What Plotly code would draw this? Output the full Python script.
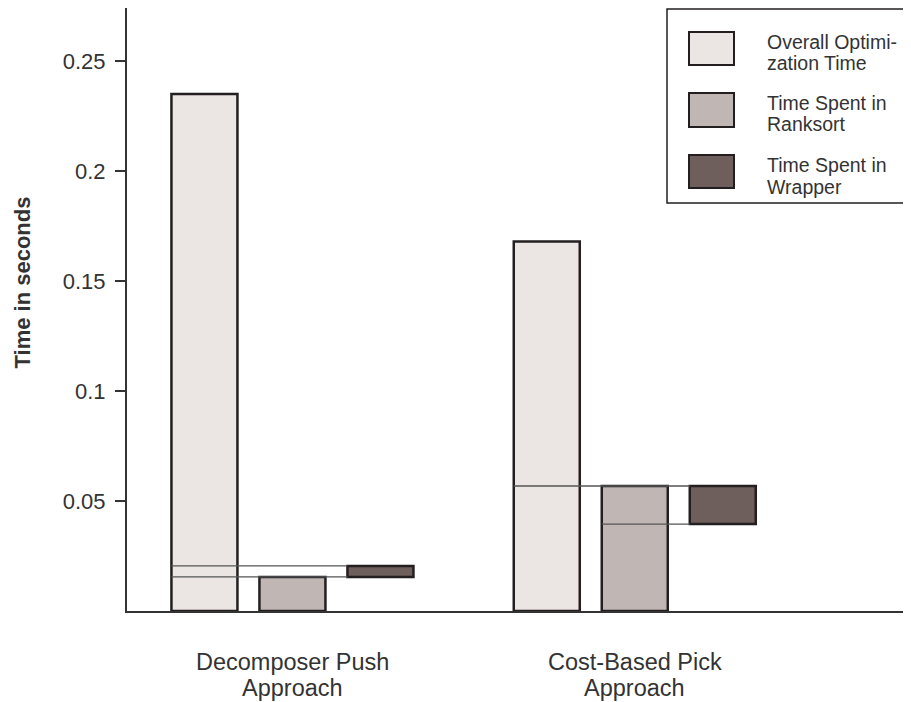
import plotly.graph_objects as go

# ---- data ----
groups = ["Decomposer Push<br>Approach", "Cost-Based Pick<br>Approach"]
series_names = ["Overall Optimi-<br>zation Time", "Time Spent in<br>Ranksort", "Time Spent in<br>Wrapper"]
overall = [0.235, 0.168]
ranksort = [0.0155, 0.0568]
wrapper_low = [0.0155, 0.0395]
wrapper_high = [0.0205, 0.0568]
# index of the bar where each connector line starts: (line at wrapper_high, line at wrapper_low)
line_start_bar = [[0, 0], [0, 1]]
ytick_vals = [0.05, 0.1, 0.15, 0.2, 0.25]
ytick_text = ["0.05", "0.1", "0.15", "0.2", "0.25"]

# ---- style / layout constants ----
colors = ["#ebe6e3", "#c0b6b3", "#6e5f5c"]
edge = "#231f20"
txt = "#333333"
FONT = "Liberation Sans, Arial, sans-serif"
group_centers = [1.88, 5.77]
offsets = [-1, 0, 1]
bw = 0.75
PAGE_OFF = 8  # browser body margin
W, H = 911 - PAGE_OFF, 702 - PAGE_OFF
L, T, R = 127 - PAGE_OFF, 0, 1
B = H - (611 - PAGE_OFF)
pw, ph = W - L - R, H - T - B

fig = go.Figure()

xs = [[c + o for c in group_centers] for o in offsets]
fig.add_trace(go.Bar(x=xs[0], y=overall, width=bw, name=series_names[0],
                     marker=dict(color=colors[0], line=dict(color=edge, width=2.5))))
fig.add_trace(go.Bar(x=xs[1], y=ranksort, width=bw, name=series_names[1],
                     marker=dict(color=colors[1], line=dict(color=edge, width=2.5))))
fig.add_trace(go.Bar(x=xs[2], y=[h - l for h, l in zip(wrapper_high, wrapper_low)],
                     base=wrapper_low, width=bw, name=series_names[2],
                     marker=dict(color=colors[2], line=dict(color=edge, width=2.5))))

shapes = []
for g, c in enumerate(group_centers):
    x_end = c + offsets[2] - bw / 2
    for k, yv in enumerate([wrapper_high[g], wrapper_low[g]]):
        x_start = c + offsets[line_start_bar[g][k]] - bw / 2
        shapes.append(dict(type="line", xref="x", yref="y", x0=x_start, x1=x_end,
                           y0=yv, y1=yv, line=dict(color="#555555", width=1.4), layer="above"))


def px_x(p):  # page pixel -> paper x
    return (p - PAGE_OFF - L) / pw


def px_y(p):  # page pixel -> paper y
    return (T + ph - (p - PAGE_OFF)) / ph


annotations = []
# legend
shapes.append(dict(type="rect", xref="paper", yref="paper", x0=px_x(667), x1=px_x(910),
                   y0=px_y(203), y1=px_y(9), line=dict(color=edge, width=1.5),
                   fillcolor="rgba(0,0,0,0)", layer="above"))
rows = [(32, 65), (93, 127), (155, 188)]
line_centers = [(40.5, 62.5), (101.5, 123.5), (163.5, 185.5)]
for i, (y0, y1) in enumerate(rows):
    shapes.append(dict(type="rect", xref="paper", yref="paper", x0=px_x(689), x1=px_x(734),
                       y0=px_y(y1), y1=px_y(y0), line=dict(color=edge, width=2),
                       fillcolor=colors[i], layer="above"))
    for j, part in enumerate(series_names[i].split("<br>")):
        annotations.append(dict(xref="paper", yref="paper", x=px_x(765), y=px_y(line_centers[i][j] + 1),
                                xanchor="left", yanchor="middle", align="left", showarrow=False,
                                text=part, font=dict(family=FONT, size=19.5, color=txt)))

# category labels
cat_line_centers = [661.5, 686.5]
for g, c in enumerate(group_centers):
    for j, part in enumerate(groups[g].split("<br>")):
        annotations.append(dict(xref="x", yref="paper", x=c, y=px_y(cat_line_centers[j] + 1),
                                yanchor="middle", xanchor="center", showarrow=False, text=part,
                                font=dict(family=FONT, size=23.5, color=txt)))

# y title
annotations.append(dict(xref="paper", yref="paper", x=0, y=px_y(282.5), xshift=-(127 - 22),
                        xanchor="center", yanchor="middle", showarrow=False, textangle=-90,
                        text="<b>Time in seconds</b>", font=dict(family=FONT, size=22, color=txt)))

fig.update_layout(
    width=W, height=H, margin=dict(l=L, r=R, t=T, b=B),
    paper_bgcolor="white", plot_bgcolor="white", showlegend=False, barmode="overlay",
    shapes=shapes, annotations=annotations,
    font=dict(family=FONT, color=txt),
    xaxis=dict(range=[0, pw / 88], showgrid=False, zeroline=False, showticklabels=False,
               showline=True, linecolor="#333333", linewidth=2, ticks=""),
    yaxis=dict(range=[0, ph * 0.05 / 110], showgrid=False, zeroline=False,
               showline=True, linecolor="#333333", linewidth=2,
               tickvals=ytick_vals, ticktext=ytick_text, ticks="outside", ticklen=10,
               tickwidth=2, tickcolor="#333333", ticklabelstandoff=5,
               tickfont=dict(family=FONT, size=22, color=txt)),
)

fig.write_html("out.html")
